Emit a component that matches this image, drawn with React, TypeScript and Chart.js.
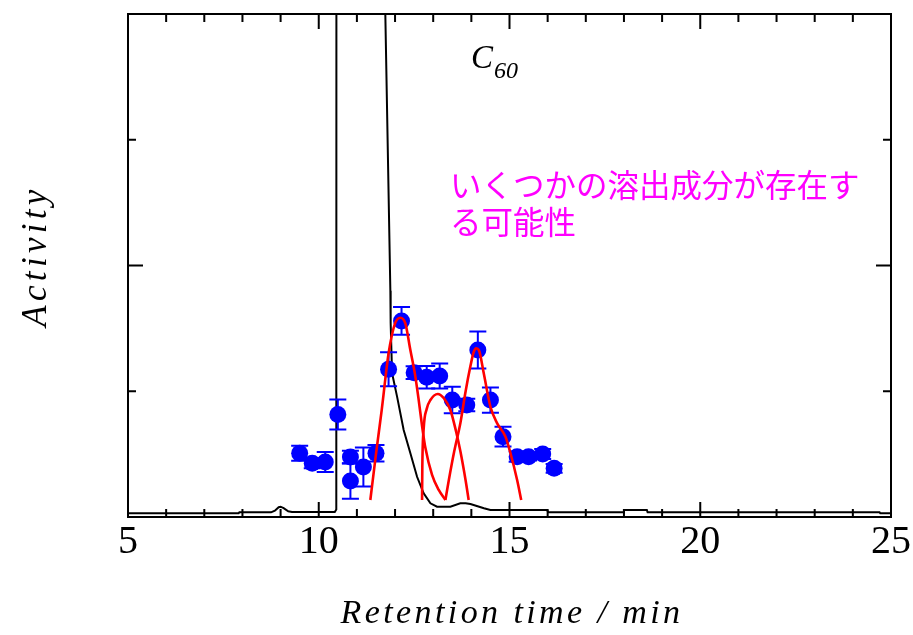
import React, { useEffect, useRef } from 'react';
import { Chart, registerables } from 'chart.js';

Chart.register(...registerables);

// ---- data ----
const xTicks = [5, 10, 15, 20, 25];

const chromX = [5.0, 7.9, 7.92, 8.75, 8.85, 8.95, 9.0, 9.08, 9.2, 9.3, 10.42, 10.46, 10.48, 11.7, 11.745, 11.877, 11.885, 11.921, 12.053, 12.226, 12.4, 12.577, 12.75, 12.927, 13.1, 13.45, 13.71, 13.85, 13.976, 14.33, 14.5, 15.98, 16.02, 17.98, 18.0, 18.6, 18.62, 24.7, 24.72, 25.0];
const chromY = [0.03, 0.03, 0.037, 0.037, 0.05, 0.078, 0.082, 0.07, 0.045, 0.04, 0.04, 0.06, 30, 30, 4.0, 1.8, 1.54, 1.145, 0.957, 0.692, 0.509, 0.32, 0.188, 0.109, 0.082, 0.082, 0.109, 0.11, 0.103, 0.069, 0.056, 0.056, 0.037, 0.037, 0.056, 0.056, 0.037, 0.037, 0.029, 0.029];

const actX = [9.5, 9.83, 10.17, 10.5, 10.83, 10.83, 11.17, 11.5, 11.83, 12.17, 12.5, 12.83, 13.17, 13.5, 13.88, 14.17, 14.5, 14.83, 15.2, 15.5, 15.87, 16.17];
const actY = [0.507, 0.427, 0.437, 0.815, 0.477, 0.286, 0.398, 0.507, 1.175, 1.559, 1.148, 1.111, 1.121, 0.93, 0.891, 1.328, 0.93, 0.639, 0.48, 0.48, 0.501, 0.387];
const actErr = [0.06, 0.04, 0.08, 0.12, 0.05, 0.14, 0.155, 0.065, 0.135, 0.11, 0.05, 0.09, 0.1, 0.105, 0.05, 0.148, 0.1, 0.078, 0.04, 0.03, 0.04, 0.035];

const fitAX = [11.352, 11.5, 11.65, 11.83, 12.0, 12.139, 12.27, 12.4, 12.52, 12.62, 12.71, 12.795, 12.97, 13.145, 13.32];
const fitAY = [0.135, 0.5, 0.85, 1.3, 1.54, 1.585, 1.54, 1.33, 1.14, 0.93, 0.72, 0.55, 0.335, 0.215, 0.135];

const fitBX = [12.708, 12.715, 12.75, 12.83, 12.927, 13.12, 13.28, 13.45, 13.6, 13.714, 13.85, 13.93];
const fitBY = [0.135, 0.4, 0.7, 0.86, 0.93, 0.978, 0.944, 0.851, 0.68, 0.52, 0.29, 0.135];

const fitCX = [13.32, 13.41, 13.55, 13.714, 13.85, 13.976, 14.06, 14.126, 14.2, 14.325, 14.5, 14.677, 14.895, 15.026, 15.2, 15.307];
const fitCY = [0.135, 0.294, 0.52, 0.75, 1.0, 1.2, 1.31, 1.341, 1.325, 1.143, 0.877, 0.745, 0.639, 0.507, 0.294, 0.135];

const SERIF = '"Liberation Serif", "Times New Roman", Times, serif';
const CJK = '"Noto Sans CJK JP", "Noto Sans CJK SC", sans-serif';

const pts = (xs: number[], ys: number[]) => xs.map((x, i) => ({ x, y: ys[i] }));

const decorPlugin = {
  id: 'decor',
  beforeDatasetDraw(chart: any, args: any) {
    if (args.index !== 1) return;
    const ctx = chart.ctx;
    const xs = chart.scales.x;
    const ys = chart.scales.y;
    ctx.save();
    ctx.strokeStyle = '#0000ff';
    ctx.lineWidth = 2;
    for (let i = 0; i < actX.length; i++) {
      const px = xs.getPixelForValue(actX[i]);
      const t = ys.getPixelForValue(actY[i] + actErr[i]);
      const b = ys.getPixelForValue(actY[i] - actErr[i]);
      ctx.beginPath();
      ctx.moveTo(px, t);
      ctx.lineTo(px, b);
      ctx.moveTo(px - 8.5, t);
      ctx.lineTo(px + 8.5, t);
      ctx.moveTo(px - 8.5, b);
      ctx.lineTo(px + 8.5, b);
      ctx.stroke();
    }
    ctx.restore();
  },
  afterDatasetsDraw(chart: any) {
    const ctx = chart.ctx;
    const { left, right, top, bottom } = chart.chartArea;
    const xs = chart.scales.x;
    const ys = chart.scales.y;
    ctx.save();
    ctx.strokeStyle = '#000';
    ctx.lineWidth = 2;
    ctx.strokeRect(left, top, right - left, bottom - top);
    ctx.beginPath();
    for (let v = 5; v <= 25; v++) {
      const px = xs.getPixelForValue(v);
      const len = v % 5 === 0 ? 15 : 8;
      ctx.moveTo(px, bottom);
      ctx.lineTo(px, bottom - len);
      ctx.moveTo(px, top);
      ctx.lineTo(px, top + len);
    }
    for (let v = 0; v <= 4; v++) {
      const py = ys.getPixelForValue(v);
      const len = v % 2 === 0 ? 15 : 8;
      ctx.moveTo(left, py);
      ctx.lineTo(left + len, py);
      ctx.moveTo(right, py);
      ctx.lineTo(right - len, py);
    }
    ctx.stroke();
    ctx.restore();
  },
  afterDraw(chart: any) {
    const ctx = chart.ctx;
    ctx.save();
    ctx.fillStyle = '#000';
    // x title
    ctx.font = `italic 34px ${SERIF}`;
    (ctx as any).letterSpacing = '3.4px';
    ctx.textAlign = 'center';
    ctx.textBaseline = 'alphabetic';
    ctx.fillText('Retention time / min', 512, 623);
    // y title
    ctx.save();
    ctx.translate(46, 256);
    ctx.rotate(-Math.PI / 2);
    ctx.font = `italic 35px ${SERIF}`;
    (ctx as any).letterSpacing = '4.3px';
    ctx.fillText('Activity', 0, 0);
    ctx.restore();
    (ctx as any).letterSpacing = '0px';
    // C60 label
    ctx.textAlign = 'left';
    ctx.font = `italic 33px ${SERIF}`;
    ctx.fillText('C', 471, 68);
    ctx.font = `italic 24px ${SERIF}`;
    ctx.fillText('60', 494, 78);
    // Japanese annotation
    ctx.fillStyle = 'rgb(255,0,255)';
    ctx.font = `31.5px ${CJK}`;
    ctx.textBaseline = 'middle';
    ctx.fillText('いくつかの溶出成分が存在す', 450, 185);
    ctx.fillText('る可能性', 450, 222);
    ctx.restore();
  },
};

export default function App() {
  const ref = useRef<HTMLCanvasElement>(null);
  useEffect(() => {
    document.body.style.margin = '0';
    const canvas = ref.current!;
    const chart = new Chart(canvas, {
      type: 'line',
      data: {
        datasets: [
          {
            data: pts(chromX, chromY),
            borderColor: '#000',
            borderWidth: 2,
            pointRadius: 0,
            tension: 0,
            order: 3,
          },
          {
            data: pts(actX, actY),
            showLine: false,
            pointRadius: 8.5,
            pointHoverRadius: 8.5,
            pointStyle: 'circle',
            pointBackgroundColor: '#0000ff',
            pointBorderWidth: 0,
            borderColor: '#0000ff',
            order: 2,
          },
          {
            data: pts(fitAX, fitAY),
            borderColor: '#ff0000',
            borderWidth: 2.6,
            pointRadius: 0,
            cubicInterpolationMode: 'monotone',
            order: 1,
          },
          {
            data: pts(fitBX, fitBY),
            borderColor: '#ff0000',
            borderWidth: 2.6,
            pointRadius: 0,
            cubicInterpolationMode: 'monotone',
            order: 1,
          },
          {
            data: pts(fitCX, fitCY),
            borderColor: '#ff0000',
            borderWidth: 2.6,
            pointRadius: 0,
            cubicInterpolationMode: 'monotone',
            order: 1,
          },
        ],
      } as any,
      options: {
        responsive: false,
        animation: false,
        devicePixelRatio: 1,
        layout: { padding: { top: 14, right: 22, left: 0, bottom: 0 } },
        plugins: { legend: { display: false }, tooltip: { enabled: false } },
        events: [],
        scales: {
          x: {
            type: 'linear',
            min: 5,
            max: 25,
            grid: { display: false, drawTicks: false },
            border: { display: false },
            afterBuildTicks: (s: any) => {
              s.ticks = xTicks.map((v) => ({ value: v }));
            },
            afterFit: (s: any) => {
              s.height = 118;
              s.paddingLeft = 0;
              s.paddingRight = 0;
            },
            ticks: {
              color: '#000',
              padding: 1,
              autoSkip: false,
              maxRotation: 0,
              font: { family: SERIF, size: 40 },
            },
          },
          y: {
            type: 'linear',
            min: 0,
            max: 4,
            grid: { display: false, drawTicks: false },
            border: { display: false },
            ticks: { display: false },
            afterFit: (s: any) => {
              s.width = 128;
              s.paddingTop = 0;
              s.paddingBottom = 0;
            },
          },
        },
      } as any,
      plugins: [decorPlugin],
    });
    return () => chart.destroy();
  }, []);
  return (
    <canvas ref={ref} width={913} height={635} style={{ display: 'block', width: 913, height: 635 }} />
  );
}
